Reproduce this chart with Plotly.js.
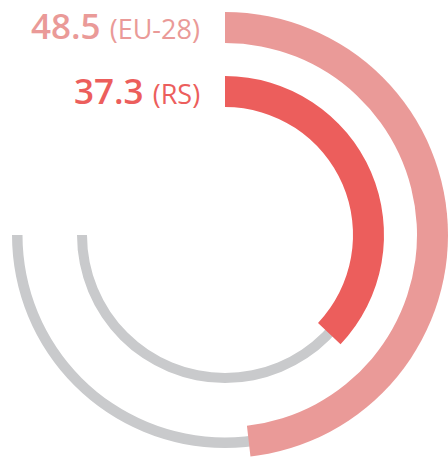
<!DOCTYPE html>
<html>
<head>
<meta charset="utf-8">
<script src="https://cdn.plot.ly/plotly-3.0.1.min.js"></script>
<style>html,body{margin:0;padding:0;background:#fff;}#chart{width:448px;height:458px;}</style>
</head>
<body>
<div id="chart"></div>
<script>
// Data
const categories = ['EU-28', 'RS'];
const values = [48.5, 37.3];
const scaleMax = 75.5;    // value that fills the whole track
const trackSweep = 270;   // degrees of the full track

// Styles / geometry (radial units = pixels)
const barBase = [192, 128];
const barThick = [32, 31];
const trackBase = [202.5, 138];
const trackThick = [10.5, 10];
const barColors = ['#EA9A98', '#EC5E5C'];
const trackColor = '#C9CACC';
const labelY = [0.945, 0.803];

const traces = [];
categories.forEach((c, i) => {
  traces.push({
    type: 'barpolar',
    r: [trackThick[i]], base: [trackBase[i]],
    theta: [trackSweep / 2], width: [trackSweep],
    marker: {color: trackColor, line: {width: 0}},
    hoverinfo: 'skip', showlegend: false
  });
});
categories.forEach((c, i) => {
  const span = values[i] / scaleMax * trackSweep;
  traces.push({
    type: 'barpolar',
    name: c,
    r: [barThick[i]], base: [barBase[i]],
    theta: [span / 2], width: [span],
    marker: {color: barColors[i], line: {width: 0}},
    showlegend: false
  });
});

const annotations = categories.map((c, i) => ({
  xref: 'paper', yref: 'paper',
  x: 202 / 448, y: labelY[i],
  xanchor: 'right', yanchor: 'middle',
  showarrow: false,
  text: '<span style="font-size:35px;font-weight:600">' + values[i].toFixed(1) + ' </span>(' + c + ')',
  font: {family: 'Open Sans, sans-serif', size: 27, color: barColors[i]}
}));

const layout = {
  width: 448, height: 458,
  margin: {l: 0, r: 0, t: 0, b: 0},
  paper_bgcolor: '#fff',
  showlegend: false,
  polar: {
    domain: {x: [2 / 448, 1], y: [0, 446 / 458]},
    bgcolor: 'rgba(0,0,0,0)',
    barmode: 'overlay',
    radialaxis: {range: [0, 223], visible: false, showgrid: false, showline: false, showticklabels: false, ticks: ''},
    angularaxis: {direction: 'clockwise', rotation: 90, visible: false, showgrid: false, showline: false, showticklabels: false, ticks: ''}
  },
  annotations: annotations
};

Plotly.newPlot('chart', traces, layout, {displayModeBar: false, staticPlot: true});
</script>
</body>
</html>
